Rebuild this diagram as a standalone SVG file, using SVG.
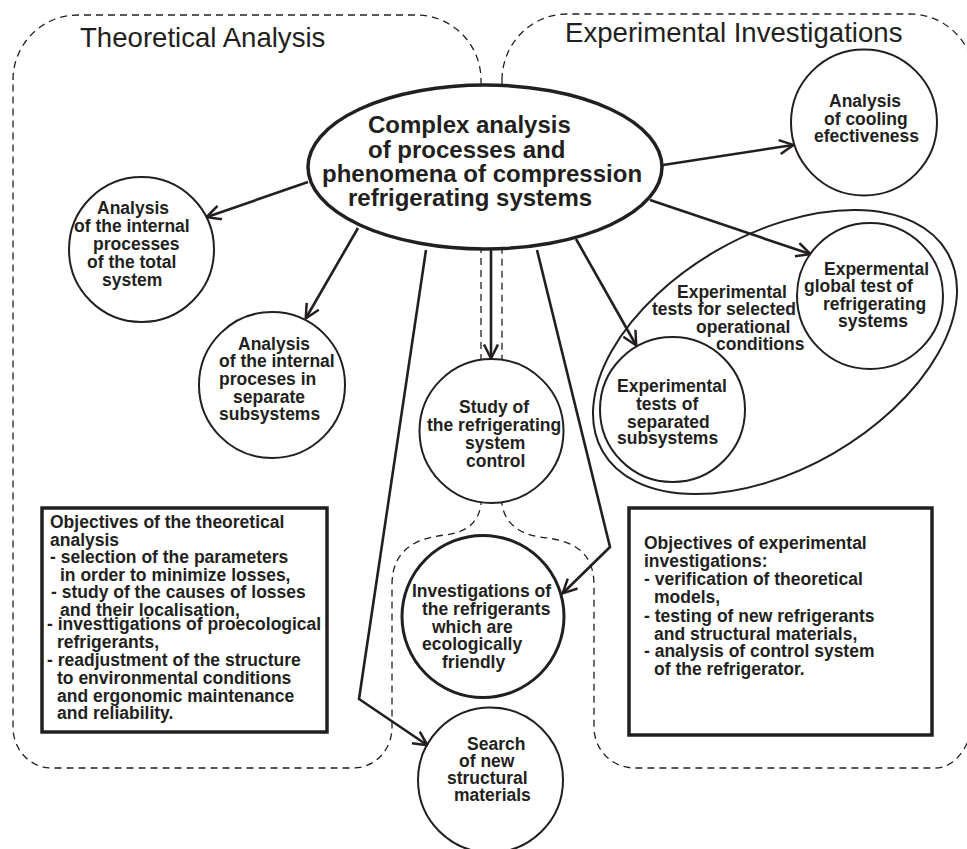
<svg xmlns="http://www.w3.org/2000/svg" width="967" height="849" viewBox="0 0 967 849">
  <style>
    .region { fill: none; stroke: #231f20; stroke-width: 1.3; stroke-dasharray: 7 5; }
    .node { fill: #ffffff; stroke: #231f20; stroke-width: 2; }
    .thick { stroke-width: 3; }
    .main { fill: #ffffff; stroke: #231f20; stroke-width: 3.5; }
    .group { fill: none; stroke: #231f20; stroke-width: 2; }
    .box { fill: #ffffff; stroke: #231f20; stroke-width: 3.5; }
    .link { fill: none; stroke: #231f20; stroke-width: 2.6; marker-end: url(#arrow); }
    text { font-family: "Liberation Sans", Arial, Helvetica, sans-serif; fill: #231f20; }
    .lbl { font-size: 17.5px; font-weight: bold; }
    .big { font-size: 24px; font-weight: bold; }
    .title { font-size: 27.6px; }
  </style>
  <defs>
    <marker id="arrow" markerUnits="userSpaceOnUse" viewBox="0 0 16 16" markerWidth="16" markerHeight="16" refX="14.5" refY="8" orient="auto">
      <path d="M1,1 L15,8 L1,15" fill="none" stroke="#231f20" stroke-width="2.5"/>
    </marker>
  </defs>

  <!-- dashed area outlines -->
  <g id="regions">
    <path id="region-theory" class="region" d="M13,80 C13,44 42,15 78,15 H416 C452,15 481,44 481,80 V505 C478,522 468,532 445,535 C418,538 392,548 392,585 V727 C392,750 375,768 353,768 H52 C30,768 13,750 13,727 Z"/>
    <path id="region-experiment" class="region" d="M502,80 C502,44 531,14 567,14 H910 C946,14 975,44 975,80 V705 C975,740 958,768 935,768 H635 C612,768 594,750 594,727 V585 C594,548 568,540 540,537 C518,534 505,522 502,505 Z"/>
    <text class="title" x="80" y="47">Theoretical Analysis</text>
    <text class="title" x="565" y="42">Experimental Investigations</text>
  </g>

  <!-- central node -->
  <g id="n-complex">
    <ellipse class="main" cx="485" cy="167" rx="177" ry="82"/>
    <text class="big" x="368" y="133">Complex analysis</text>
    <text class="big" x="368" y="158">of processes and</text>
    <text class="big" x="322" y="182">phenomena of compression</text>
    <text class="big" x="348" y="206">refrigerating systems</text>
  </g>

  <g id="n-total">
    <circle class="node" cx="141.5" cy="249.5" r="72.5"/>
    <text class="lbl" x="97" y="214">Analysis</text>
    <text class="lbl" x="74" y="232">of the internal</text>
    <text class="lbl" x="93" y="250">processes</text>
    <text class="lbl" x="87" y="268">of the total</text>
    <text class="lbl" x="102" y="286">system</text>
  </g>

  <g id="n-subsystems">
    <circle class="node" cx="272" cy="385" r="73"/>
    <text class="lbl" x="238" y="350">Analysis</text>
    <text class="lbl" x="219" y="367">of the internal</text>
    <text class="lbl" x="219" y="385">proceses in</text>
    <text class="lbl" x="233" y="403">separate</text>
    <text class="lbl" x="219" y="420">subsystems</text>
  </g>

  <g id="n-control">
    <circle class="node" cx="491.5" cy="431" r="72"/>
    <text class="lbl" x="459" y="413">Study of</text>
    <text class="lbl" x="427" y="431">the refrigerating</text>
    <text class="lbl" x="465" y="449">system</text>
    <text class="lbl" x="466" y="467">control</text>
  </g>

  <g id="n-refrigerants">
    <circle class="node thick" cx="483" cy="616.5" r="81"/>
    <text class="lbl" x="412" y="597">Investigations of</text>
    <text class="lbl" x="422" y="615">the refrigerants</text>
    <text class="lbl" x="432" y="633">which are</text>
    <text class="lbl" x="422" y="650">ecologically</text>
    <text class="lbl" x="442" y="668">friendly</text>
  </g>

  <g id="n-materials">
    <circle class="node" cx="490.5" cy="780" r="72.5"/>
    <text class="lbl" x="467" y="750">Search</text>
    <text class="lbl" x="459" y="767">of new</text>
    <text class="lbl" x="447" y="784">structural</text>
    <text class="lbl" x="454" y="801">materials</text>
  </g>

  <g id="n-cooling">
    <circle class="node" cx="864" cy="122.5" r="73"/>
    <text class="lbl" x="829" y="107">Analysis</text>
    <text class="lbl" x="824" y="125">of cooling</text>
    <text class="lbl" x="814" y="142">efectiveness</text>
  </g>

  <!-- grouping of the operational test nodes -->
  <g id="n-operational">
    <ellipse class="group" cx="775" cy="352" rx="199" ry="117" transform="rotate(-30 775 352)"/>
    <text class="lbl" x="677" y="298">Experimental</text>
    <text class="lbl" x="652" y="315">tests for selected</text>
    <text class="lbl" x="696" y="333">operational</text>
    <text class="lbl" x="716" y="350">conditions</text>
  </g>

  <g id="n-global">
    <circle class="node" cx="870" cy="296" r="73"/>
    <text class="lbl" x="824" y="275">Expermental</text>
    <text class="lbl" x="804" y="292">global test of</text>
    <text class="lbl" x="823" y="310">refrigerating</text>
    <text class="lbl" x="838" y="327">systems</text>
  </g>

  <g id="n-separated">
    <circle class="node" cx="672.5" cy="409.5" r="72.5"/>
    <text class="lbl" x="617" y="392">Experimental</text>
    <text class="lbl" x="636" y="410">tests of</text>
    <text class="lbl" x="627" y="428">separated</text>
    <text class="lbl" x="617" y="444">subsystems</text>
  </g>

  <g id="n-theory-goals">
    <rect class="box" x="42" y="508" width="285" height="224"/>
    <text class="lbl" x="50" y="528">Objectives of the theoretical</text>
    <text class="lbl" x="50" y="546">analysis</text>
    <text class="lbl" x="50" y="563">- selection of the parameters</text>
    <text class="lbl" x="60" y="581">in order to minimize losses,</text>
    <text class="lbl" x="51" y="598">- study of the causes of losses</text>
    <text class="lbl" x="60" y="616">and their localisation,</text>
    <text class="lbl" x="47" y="630">- investtigations of proecological</text>
    <text class="lbl" x="57" y="648">refrigerants,</text>
    <text class="lbl" x="47" y="666">- readjustment of the structure</text>
    <text class="lbl" x="57" y="684">to environmental conditions</text>
    <text class="lbl" x="57" y="702">and ergonomic maintenance</text>
    <text class="lbl" x="57" y="719">and reliability.</text>
  </g>

  <g id="n-experiment-goals">
    <rect class="box" x="629" y="508" width="303" height="227"/>
    <text class="lbl" x="644" y="549">Objectives of experimental</text>
    <text class="lbl" x="644" y="567">investigations:</text>
    <text class="lbl" x="644" y="585">- verification of theoretical</text>
    <text class="lbl" x="654" y="603">models,</text>
    <text class="lbl" x="644" y="622">- testing of new refrigerants</text>
    <text class="lbl" x="654" y="640">and structural materials,</text>
    <text class="lbl" x="644" y="657">- analysis of control system</text>
    <text class="lbl" x="654" y="675">of the refrigerator.</text>
  </g>

  <!-- connectors -->
  <g id="connectors">
    <path class="link" d="M308,182 L207,217"/>
    <path class="link" d="M358,228 L306,318"/>
    <path class="link" d="M426,250 L359,699 L427,745"/>
    <path class="link" d="M491,250 L491,358"/>
    <path class="link" d="M537,250 L610,547 L563,593"/>
    <path class="link" d="M576,239 L636,345"/>
    <path class="link" d="M650,200 L810,254"/>
    <path class="link" d="M663,165 L793,145"/>
  </g>
</svg>
